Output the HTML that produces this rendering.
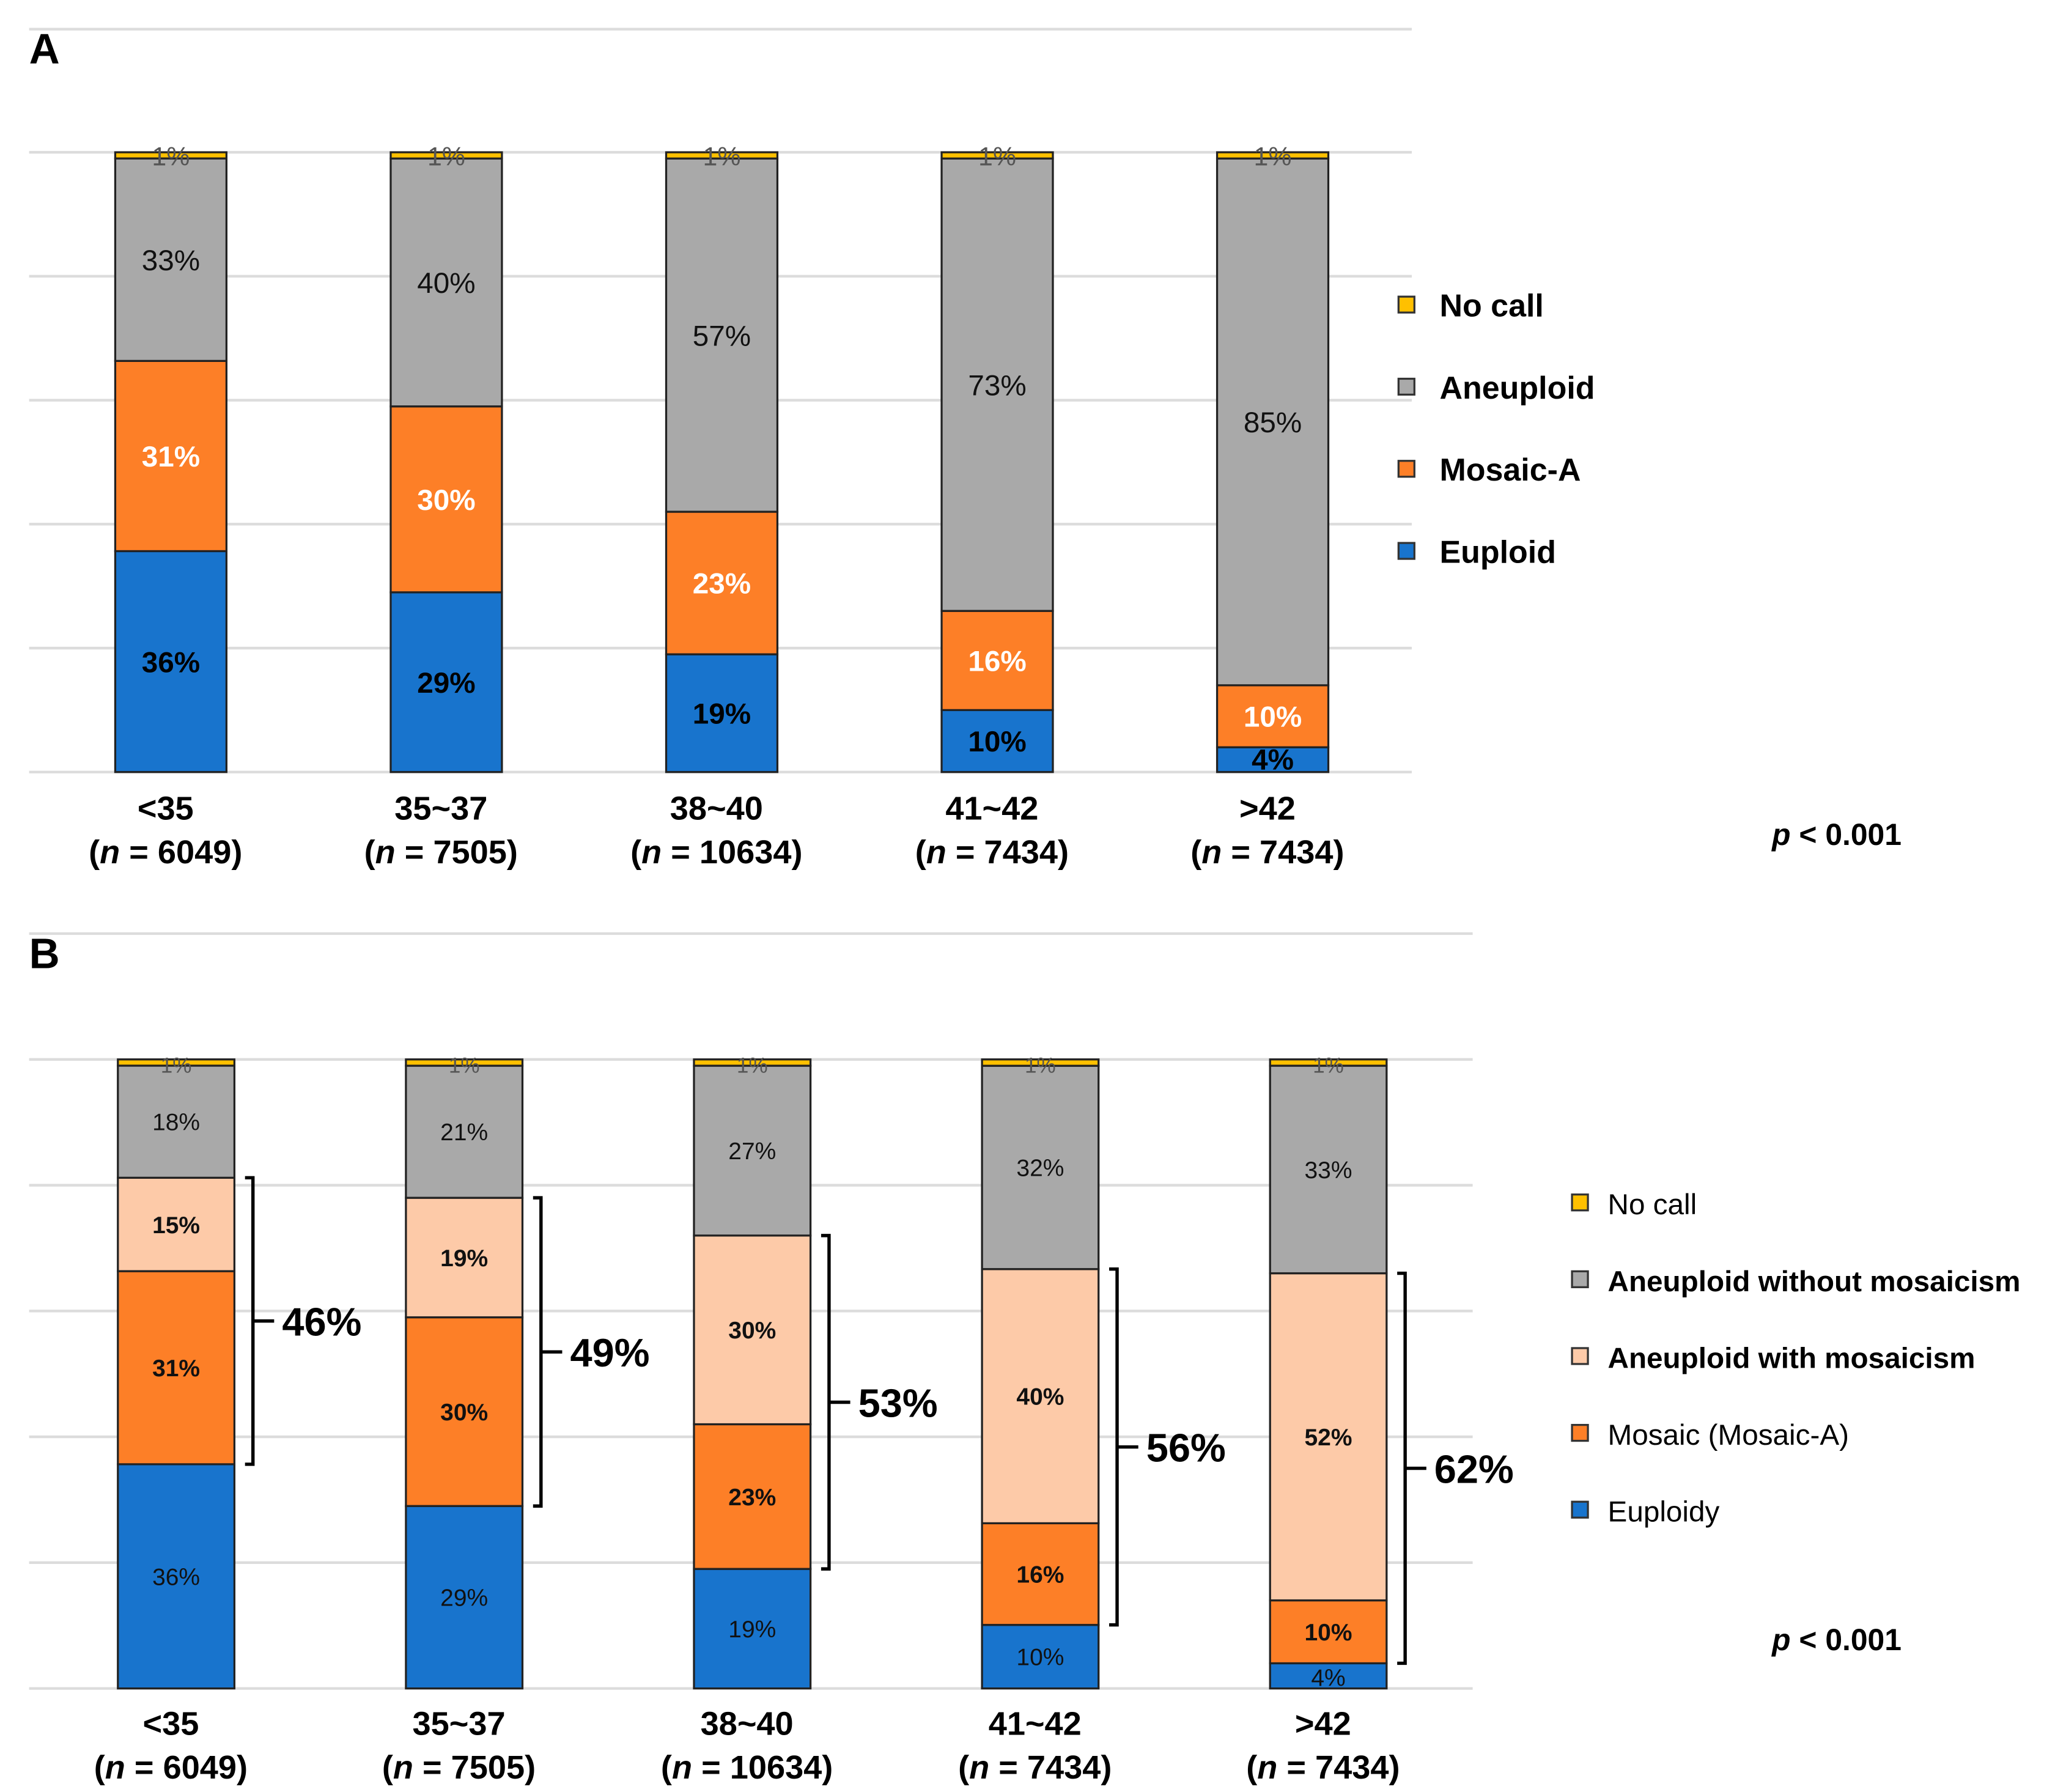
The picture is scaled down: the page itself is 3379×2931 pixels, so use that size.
<!DOCTYPE html>
<html><head><meta charset="utf-8"><style>
html,body{margin:0;padding:0;background:#fff}
svg{display:block}
text{font-family:"Liberation Sans",Arial,sans-serif}
</style></head><body>
<svg id="fig" width="3379" height="2931" viewBox="0 0 1560 1353.2" preserveAspectRatio="none" xmlns="http://www.w3.org/2000/svg"></svg>
<script>
const categories = ["<35","35~37","38~40","41~42",">42"];
const nLabels = ["6049","7505","10634","7434","7434"];
const aEuploid = [36,29,19,10,4];
const aMosaic = [31,30,23,16,10];
const aAneuploid = [33,40,57,73,85];
const aNoCall = [1,1,1,1,1];
const bEuploid = [36,29,19,10,4];
const bMosaic = [31,30,23,16,10];
const bAneuWith = [15,19,30,40,52];
const bAneuWithout = [18,21,27,32,33];
const bNoCall = [1,1,1,1,1];
const bracketTotals = [46,49,53,56,62];

const NS="http://www.w3.org/2000/svg";
const svg=document.getElementById('fig');
function mk(tag,attrs,parent){const e=document.createElementNS(NS,tag);for(const k in attrs)e.setAttribute(k,attrs[k]);(parent||svg).appendChild(e);return e;}
function txt(s,x,y,size,weight,fill,anchor,parent){const t=mk('text',{x:x,y:y,'font-size':size,'font-weight':weight||'normal',fill:fill||'#000','text-anchor':anchor||'middle'},parent);t.textContent=s;return t;}

function panel(cfg){
  const g=mk('g',{});
  
  
  const y=v=>cfg.base-(v/100)*(cfg.base-cfg.top);
  const xc=i=>cfg.x0+i*cfg.step;
  mk('line',{x1:22,x2:cfg.gridRight,y1:cfg.frameTop,y2:cfg.frameTop,stroke:'#dcdcdc','stroke-width':2},g);
  for(let k=0;k<=5;k++){
    const l=mk('line',{x1:22,x2:cfg.gridRight,y1:y(k*20),y2:y(k*20),stroke:'#dcdcdc','stroke-width':2},g);
    
    
  }
  const pl=txt(cfg.letter,22,cfg.frameTop+26,32,'bold','#000','start',g);
  
  
  categories.forEach((c,i)=>{
    const tot=cfg.series.reduce((s,se)=>s+se.vals[i],0);
    let acc=0;
    cfg.series.forEach(se=>{
      const v=se.vals[i]*100/tot;
      const y1=y(acc), y2=y(acc+v);
      const r=mk('rect',{x:xc(i)-cfg.bw/2,y:y2,width:cfg.bw,height:y1-y2,fill:se.color,stroke:'#222','stroke-width':1.5},g);
      
      
      const ly = se.key==='nocall' ? y2+10 : (y1+y2)/2+cfg.fs*0.36;
      const ly2 = (se.key==='euploid' && v<6) ? y1-2 : ly;
      const t=txt(se.vals[i]+'%',xc(i),ly2,se.key==='nocall'?cfg.fs*0.9:cfg.fs,se.bold?'bold':'normal',se.tc,'middle',g);
      
      
      acc+=v;
      se._pos=se._pos||[];se._pos[i]=[y1,y2];
    });
    const cl=txt(c,xc(i)-4,cfg.lab1,25,'bold','#000','middle',g);
    
    
    const nl=mk('text',{x:xc(i)-4,y:cfg.lab1+33,'font-size':25,'font-weight':'bold','text-anchor':'middle'},g);
    nl.innerHTML='(<tspan font-style="italic">n</tspan> = '+nLabels[i]+')';
    
    
    if(cfg.bracket){
      const lo=cfg.series[1]._pos[i][0], hi=cfg.series[2]._pos[i][1];
      const bx=xc(i)+cfg.bw/2+14;
      const p=mk('path',{d:`M${bx-6},${hi} H${bx} V${lo} H${bx-6} M${bx},${(hi+lo)/2} H${bx+16}`,fill:'none',stroke:'#000','stroke-width':2.5},g);
      
      
      const bt=txt(bracketTotals[i]+'%',bx+22,(hi+lo)/2+11,30,'bold','#000','start',g);
      
      
    }
  });
  cfg.legend.forEach((le,j)=>{
    const ly=cfg.legY+j*cfg.legStep;
    const r=mk('rect',{x:cfg.legX,y:ly-7,width:12,height:12,fill:le.color,stroke:'#333','stroke-width':1.5},g);
    
    
    const t=txt(le.label,cfg.legX+cfg.legGap,ly+8,cfg.legFs,le.bold?'bold':'normal','#000','start',g);
    
    
  });
  const pv=mk('text',{x:1338,y:cfg.pY,'font-size':23,'font-weight':'bold'},g);
  pv.innerHTML='<tspan font-style="italic">p</tspan> &lt; 0.001';
  
  
}
const BLUE='#1874cd',ORANGE='#fd7f27',GRAY='#a9a9a9',YEL='#ffc000',PEACH='#fdcaa8';
panel({name:'panel-a',letter:'A',frameTop:22,top:115,base:583,x0:129,step:208,bw:84,gridRight:1066,fs:22,lab1:619,
  series:[{key:'euploid',vals:aEuploid,color:BLUE,tc:'#000',bold:true},
          {key:'mosaic',vals:aMosaic,color:ORANGE,tc:'#fff',bold:true},
          {key:'aneuploid',vals:aAneuploid,color:GRAY,tc:'#111'},
          {key:'nocall',vals:aNoCall,color:YEL,tc:'#555'}],
  legend:[{label:'No call',color:YEL,bold:true},{label:'Aneuploid',color:GRAY,bold:true},{label:'Mosaic-A',color:ORANGE,bold:true},{label:'Euploid',color:BLUE,bold:true}],
  legX:1056,legY:231,legStep:62,legGap:31,legFs:24,pY:638});
panel({name:'panel-b',letter:'B',frameTop:705,top:800,base:1275,x0:133,step:217.5,bw:88,gridRight:1112,fs:18,lab1:1310,bracket:true,
  series:[{key:'euploid',vals:bEuploid,color:BLUE,tc:'#111'},
          {key:'mosaic',vals:bMosaic,color:ORANGE,tc:'#111',bold:true},
          {key:'aneu-with',vals:bAneuWith,color:PEACH,tc:'#111',bold:true},
          {key:'aneu-without',vals:bAneuWithout,color:GRAY,tc:'#111'},
          {key:'nocall',vals:bNoCall,color:YEL,tc:'#555'}],
  legend:[{label:'No call',color:YEL},{label:'Aneuploid without mosaicism',color:GRAY,bold:true},{label:'Aneuploid with mosaicism',color:PEACH,bold:true},{label:'Mosaic (Mosaic-A)',color:ORANGE},{label:'Euploidy',color:BLUE}],
  legX:1187,legY:909,legStep:58,legGap:27,legFs:22,pY:1246});
</script>
</body></html>
